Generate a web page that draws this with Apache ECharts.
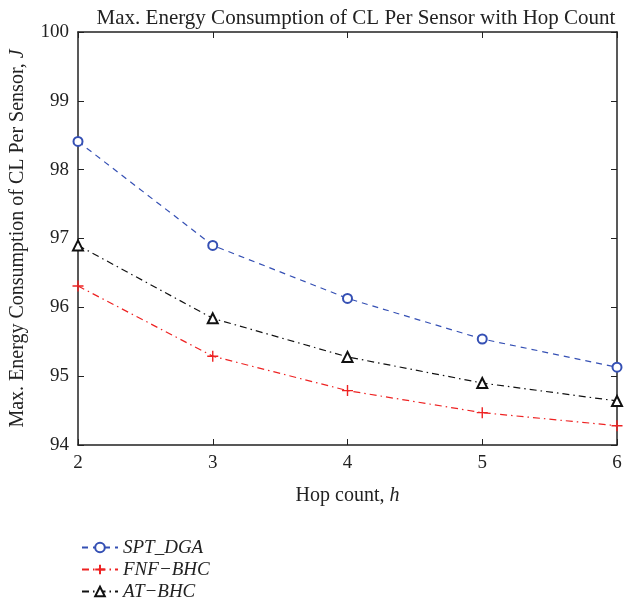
<!DOCTYPE html>
<html>
<head>
<meta charset="utf-8">
<script src="https://cdn.jsdelivr.net/npm/echarts@6/dist/echarts.min.js"></script>
<style>
html, body { margin: 0; padding: 0; background: #fff; }
#chart { width: 626px; height: 601px; }
</style>
</head>
<body>
<div id="chart"></div>
<script>
// 横轴：跳数
const hops = [2, 3, 4, 5, 6]
// 三条曲线（图上读出来的值）
const sptDga = [98.41, 96.90, 96.13, 95.54, 95.13]
const fnfBhc = [96.31, 95.29, 94.79, 94.47, 94.28]
const atBhc = [96.90, 95.84, 95.28, 94.90, 94.64]
const seriesNames = ['SPT_DGA', 'FNF\u2212BHC', 'AT\u2212BHC']

const serif = '"Liberation Serif", "DejaVu Serif", serif'
const pairs = arr => hops.map((h, i) => [h, arr[i]])

let myChart = echarts.init(document.getElementById('chart'))

// 边框四边都要刻度，像 matlab 一样
const boxAxis = {
    min: 2, max: 6, interval: 1,
    axisLine: { show: true, lineStyle: { color: '#222', width: 1.5 } },
    axisTick: { show: true, inside: true, length: 6, lineStyle: { color: '#222' } },
    splitLine: { show: false }
}
const nameStyle = {
    fontFamily: serif, fontSize: 20, color: '#222',
    rich: { i: { fontFamily: serif, fontSize: 20, fontStyle: 'italic', color: '#222' } }
}

let option = {
    animation: false,
    title: {
        text: 'Max. Energy Consumption of CL Per Sensor with Hop Count',
        left: 351, top: 3, textAlign: 'center',
        textStyle: { fontFamily: serif, fontSize: 21, fontWeight: 'normal', color: '#222' }
    },
    grid: { left: 77, right: 9, top: 32, bottom: 156 },
    legend: {
        orient: 'vertical',
        left: 76, top: 533, height: 80,
        itemWidth: 36, itemHeight: 12, itemGap: 3,
        textStyle: { fontFamily: serif, fontSize: 19, fontStyle: 'italic', color: '#222' },
        data: seriesNames
    },
    xAxis: [
        Object.assign({}, boxAxis, {
            type: 'value', position: 'bottom',
            name: 'Hop count, {i|h}', nameLocation: 'middle', nameGap: 41,
            nameTextStyle: nameStyle,
            axisLabel: { fontFamily: serif, fontSize: 19, color: '#222', margin: 9 }
        }),
        Object.assign({}, boxAxis, { type: 'value', position: 'top', axisLabel: { show: false } })
    ],
    yAxis: [
        Object.assign({}, boxAxis, {
            type: 'value', min: 94, max: 100, interval: 1, position: 'left',
            name: 'Max. Energy Consumption of CL Per Sensor, {i|J}', nameLocation: 'middle', nameGap: 50,
            nameTextStyle: nameStyle,
            axisLabel: { fontFamily: serif, fontSize: 19, color: '#222', margin: 9 }
        }),
        Object.assign({}, boxAxis, { type: 'value', min: 94, max: 100, interval: 1, position: 'right', axisLabel: { show: false } })
    ],
    series: [
        {
            name: seriesNames[0], type: 'line', data: pairs(sptDga),
            symbol: 'emptyCircle', symbolSize: 9,
            itemStyle: { color: '#3550b4', borderWidth: 1.2 },
            lineStyle: { color: '#3550b4', width: 1.2, type: [6, 5] }
        },
        {
            name: seriesNames[1], type: 'line', data: pairs(fnfBhc),
            symbol: 'path://M5,0 L5,10 M0,5 L10,5', symbolSize: 11,
            itemStyle: { color: '#ee2222', borderColor: '#ee2222', borderWidth: 1.4 },
            lineStyle: { color: '#ee2222', width: 1.2, type: [7, 4, 1.5, 4] }
        },
        {
            name: seriesNames[2], type: 'line', data: pairs(atBhc),
            symbol: 'emptyTriangle', symbolSize: 10,
            itemStyle: { color: '#111', borderWidth: 1.3 },
            lineStyle: { color: '#111', width: 1.2, type: [7, 4, 1.5, 4] }
        }
    ]
}

myChart.setOption(option)
</script>
</body>
</html>
